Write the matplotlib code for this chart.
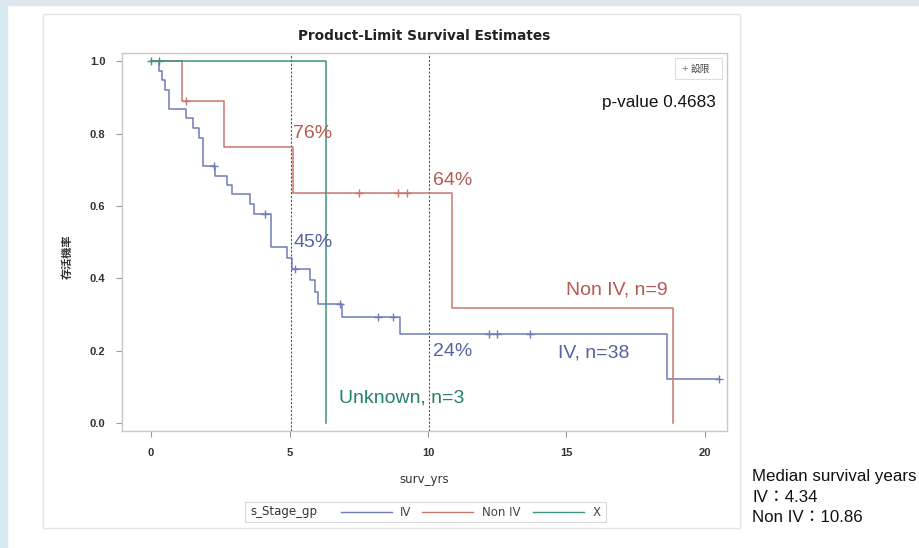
import matplotlib.pyplot as plt
from matplotlib.patches import Rectangle
from matplotlib.lines import Line2D

plt.rcParams['font.family'] = ['Liberation Sans', 'DejaVu Sans']

# Kaplan-Meier steps: time (years), survival after the step
iv_t = [0, 0.3, 0.4, 0.51, 0.65, 1.26, 1.5, 1.74, 1.86, 2.3, 2.74, 2.92, 3.58, 3.7,
        4.34, 4.92, 5.1, 5.74, 5.92, 6.02, 6.9, 9.0, 18.65, 20.5]
iv_s = [1.0, 0.974, 0.947, 0.921, 0.868, 0.842, 0.816, 0.789, 0.711, 0.684, 0.658, 0.632,
        0.605, 0.579, 0.487, 0.455, 0.425, 0.395, 0.363, 0.329, 0.292, 0.246, 0.123, 0.123]
iv_cens_t = [2.27, 4.13, 5.2, 6.82, 8.2, 8.72, 12.2, 12.5, 13.7, 20.5]
iv_cens_s = [0.711, 0.579, 0.425, 0.329, 0.292, 0.292, 0.246, 0.246, 0.246, 0.123]

nonv_t = [0, 1.12, 2.64, 5.13, 10.86, 18.86]
nonv_s = [1.0, 0.889, 0.762, 0.635, 0.318, 0.0]
nonv_cens_t = [1.25, 7.5, 8.9, 9.25]
nonv_cens_s = [0.889, 0.635, 0.635, 0.635]

x_t = [0, 6.3]
x_s = [1.0, 0.0]
x_cens_t = [0.0, 0.28]
x_cens_s = [1.0, 1.0]

ref_years = [5, 10]
groups = ['IV', 'Non IV', 'X']

blue, red, green = '#6f7bb8', '#c9766d', '#3b9484'
blue_txt, red_txt, green_txt = '#56639f', '#b45a51', '#24806f'
narrow = ['Liberation Sans Narrow', 'DejaVu Sans']

fig = plt.figure(figsize=(9.2, 5.48), dpi=100)
W, H = 920, 548

def fx(px):
    return px / W

def fy(py):
    return 1 - py / H

# page background bits
fig.patches.append(Rectangle((0, 0), fx(7), 1, transform=fig.transFigure,
                             color='#d6eaf0', zorder=0))
fig.patches.append(Rectangle((0, fy(5)), 1, fy(0) - fy(5), transform=fig.transFigure,
                             color='#dde6ee', zorder=0))
fig.patches.append(Rectangle((fx(43), fy(528)), fx(740) - fx(43), fy(14) - fy(528),
                             transform=fig.transFigure, fill=False,
                             edgecolor='#e4e4e4', lw=1, zorder=0))

ax = fig.add_axes([fx(122), fy(431), fx(727) - fx(122), fy(53) - fy(431)])

ax.step(iv_t, iv_s, where='post', color=blue, lw=1.1)
ax.step(nonv_t, nonv_s, where='post', color=red, lw=1.1)
ax.step(x_t, x_s, where='post', color=green, lw=1.1)
ax.plot(iv_cens_t, iv_cens_s, '+', color=blue, ms=6, mew=1.0)
ax.plot(nonv_cens_t, nonv_cens_s, '+', color=red, ms=6, mew=1.0)
ax.plot(x_cens_t, x_cens_s, '+', color=green, ms=6, mew=1.0)

for yr in ref_years:
    ax.axvline(yr + 0.05, color='#555555', lw=0.8, ls=(0, (2, 1.5)), zorder=1)

ax.set_xlim(-1.05, 20.8)
ax.set_ylim(-0.022, 1.023)
ax.set_xticks([0, 5, 10, 15, 20])
ax.set_yticks([0.0, 0.2, 0.4, 0.6, 0.8, 1.0])
ax.set_yticklabels(['0.0', '0.2', '0.4', '0.6', '0.8', '1.0'])
ax.tick_params(axis='both', direction='out', length=4, width=0.8, color='#999999',
               labelsize=8, labelcolor='#333333', pad=8)
for lab in ax.get_xticklabels() + ax.get_yticklabels():
    lab.set_fontweight('bold')
for sp in ax.spines.values():
    sp.set_color('#c8c8c8')
    sp.set_linewidth(1.0)

# percentages and group labels
ax.text(5.13, 0.80, '76%', color=red_txt, fontsize=14, va='center')
ax.text(10.2, 0.67, '64%', color=red_txt, fontsize=14, va='center')
ax.text(5.13, 0.498, '45%', color=blue_txt, fontsize=14, va='center')
ax.text(10.18, 0.198, '24%', color=blue_txt, fontsize=14, va='center')
ax.text(14.98, 0.367, 'Non IV, n=9', color=red_txt, fontsize=14, va='center')
ax.text(14.7, 0.193, 'IV, n=38', color=blue_txt, fontsize=14, va='center')
ax.text(6.79, 0.068, 'Unknown, n=3', color=green_txt, fontsize=14, va='center')

fig.text(fx(716), fy(103), 'p-value 0.4683', ha='right', va='center',
         fontsize=12.3, color='#111111')

# censor legend box, top right
fig.patches.append(Rectangle((fx(675), fy(79)), fx(722) - fx(675), fy(58) - fy(79),
                             transform=fig.transFigure, fill=False,
                             edgecolor='#dddddd', lw=0.8))
fig.text(fx(681), fy(69), '+', color='#777777', fontsize=8, va='center')
fig.text(fx(691), fy(69), '設限', color='#444444', fontsize=7, va='center',
         family=['Noto Sans CJK TC', 'DejaVu Sans'])

fig.text(fx(424), fy(36), 'Product-Limit Survival Estimates', ha='center', va='center',
         fontsize=9.8, fontweight='bold', color='#222222', family=narrow)
fig.text(fx(424), fy(480), 'surv_yrs', ha='center', va='center', fontsize=8.5,
         color='#333333', family=narrow)
fig.text(fx(67), fy(257), '存活機率', ha='center', va='center', rotation=90,
         fontsize=8, fontweight='bold', color='#333333',
         family=['Noto Sans CJK TC', 'DejaVu Sans'])

# group legend, bottom
fig.patches.append(Rectangle((fx(245), fy(522)), fx(606) - fx(245), fy(502) - fy(522),
                             transform=fig.transFigure, fill=False,
                             edgecolor='#d8d8d8', lw=0.8))
ly = fy(512)
fig.text(fx(250), ly, 's_Stage_gp', fontsize=8.5, va='center', color='#333333',
         family=narrow)
for (x0, x1, xl), col, name in zip([(341, 392, 400), (422, 473, 482), (533, 584, 593)],
                                   [blue, red, green], groups):
    fig.add_artist(Line2D([fx(x0), fx(x1)], [ly, ly], color=col, lw=1.0,
                          transform=fig.transFigure))
    fig.text(fx(xl), ly, name, fontsize=8.5, va='center', color='#444444', family=narrow)

# median note on the right
fig.text(fx(752), fy(476), 'Median survival years', fontsize=12.2, va='center', color='#111111')
fig.text(fx(752), fy(497), 'IV：4.34', fontsize=12.2, va='center', color='#111111',
         family=['Liberation Sans', 'Noto Sans CJK TC'])
fig.text(fx(752), fy(518), 'Non IV：10.86', fontsize=12.2, va='center', color='#111111',
         family=['Liberation Sans', 'Noto Sans CJK TC'])

fig.savefig('out.png', dpi=100)
